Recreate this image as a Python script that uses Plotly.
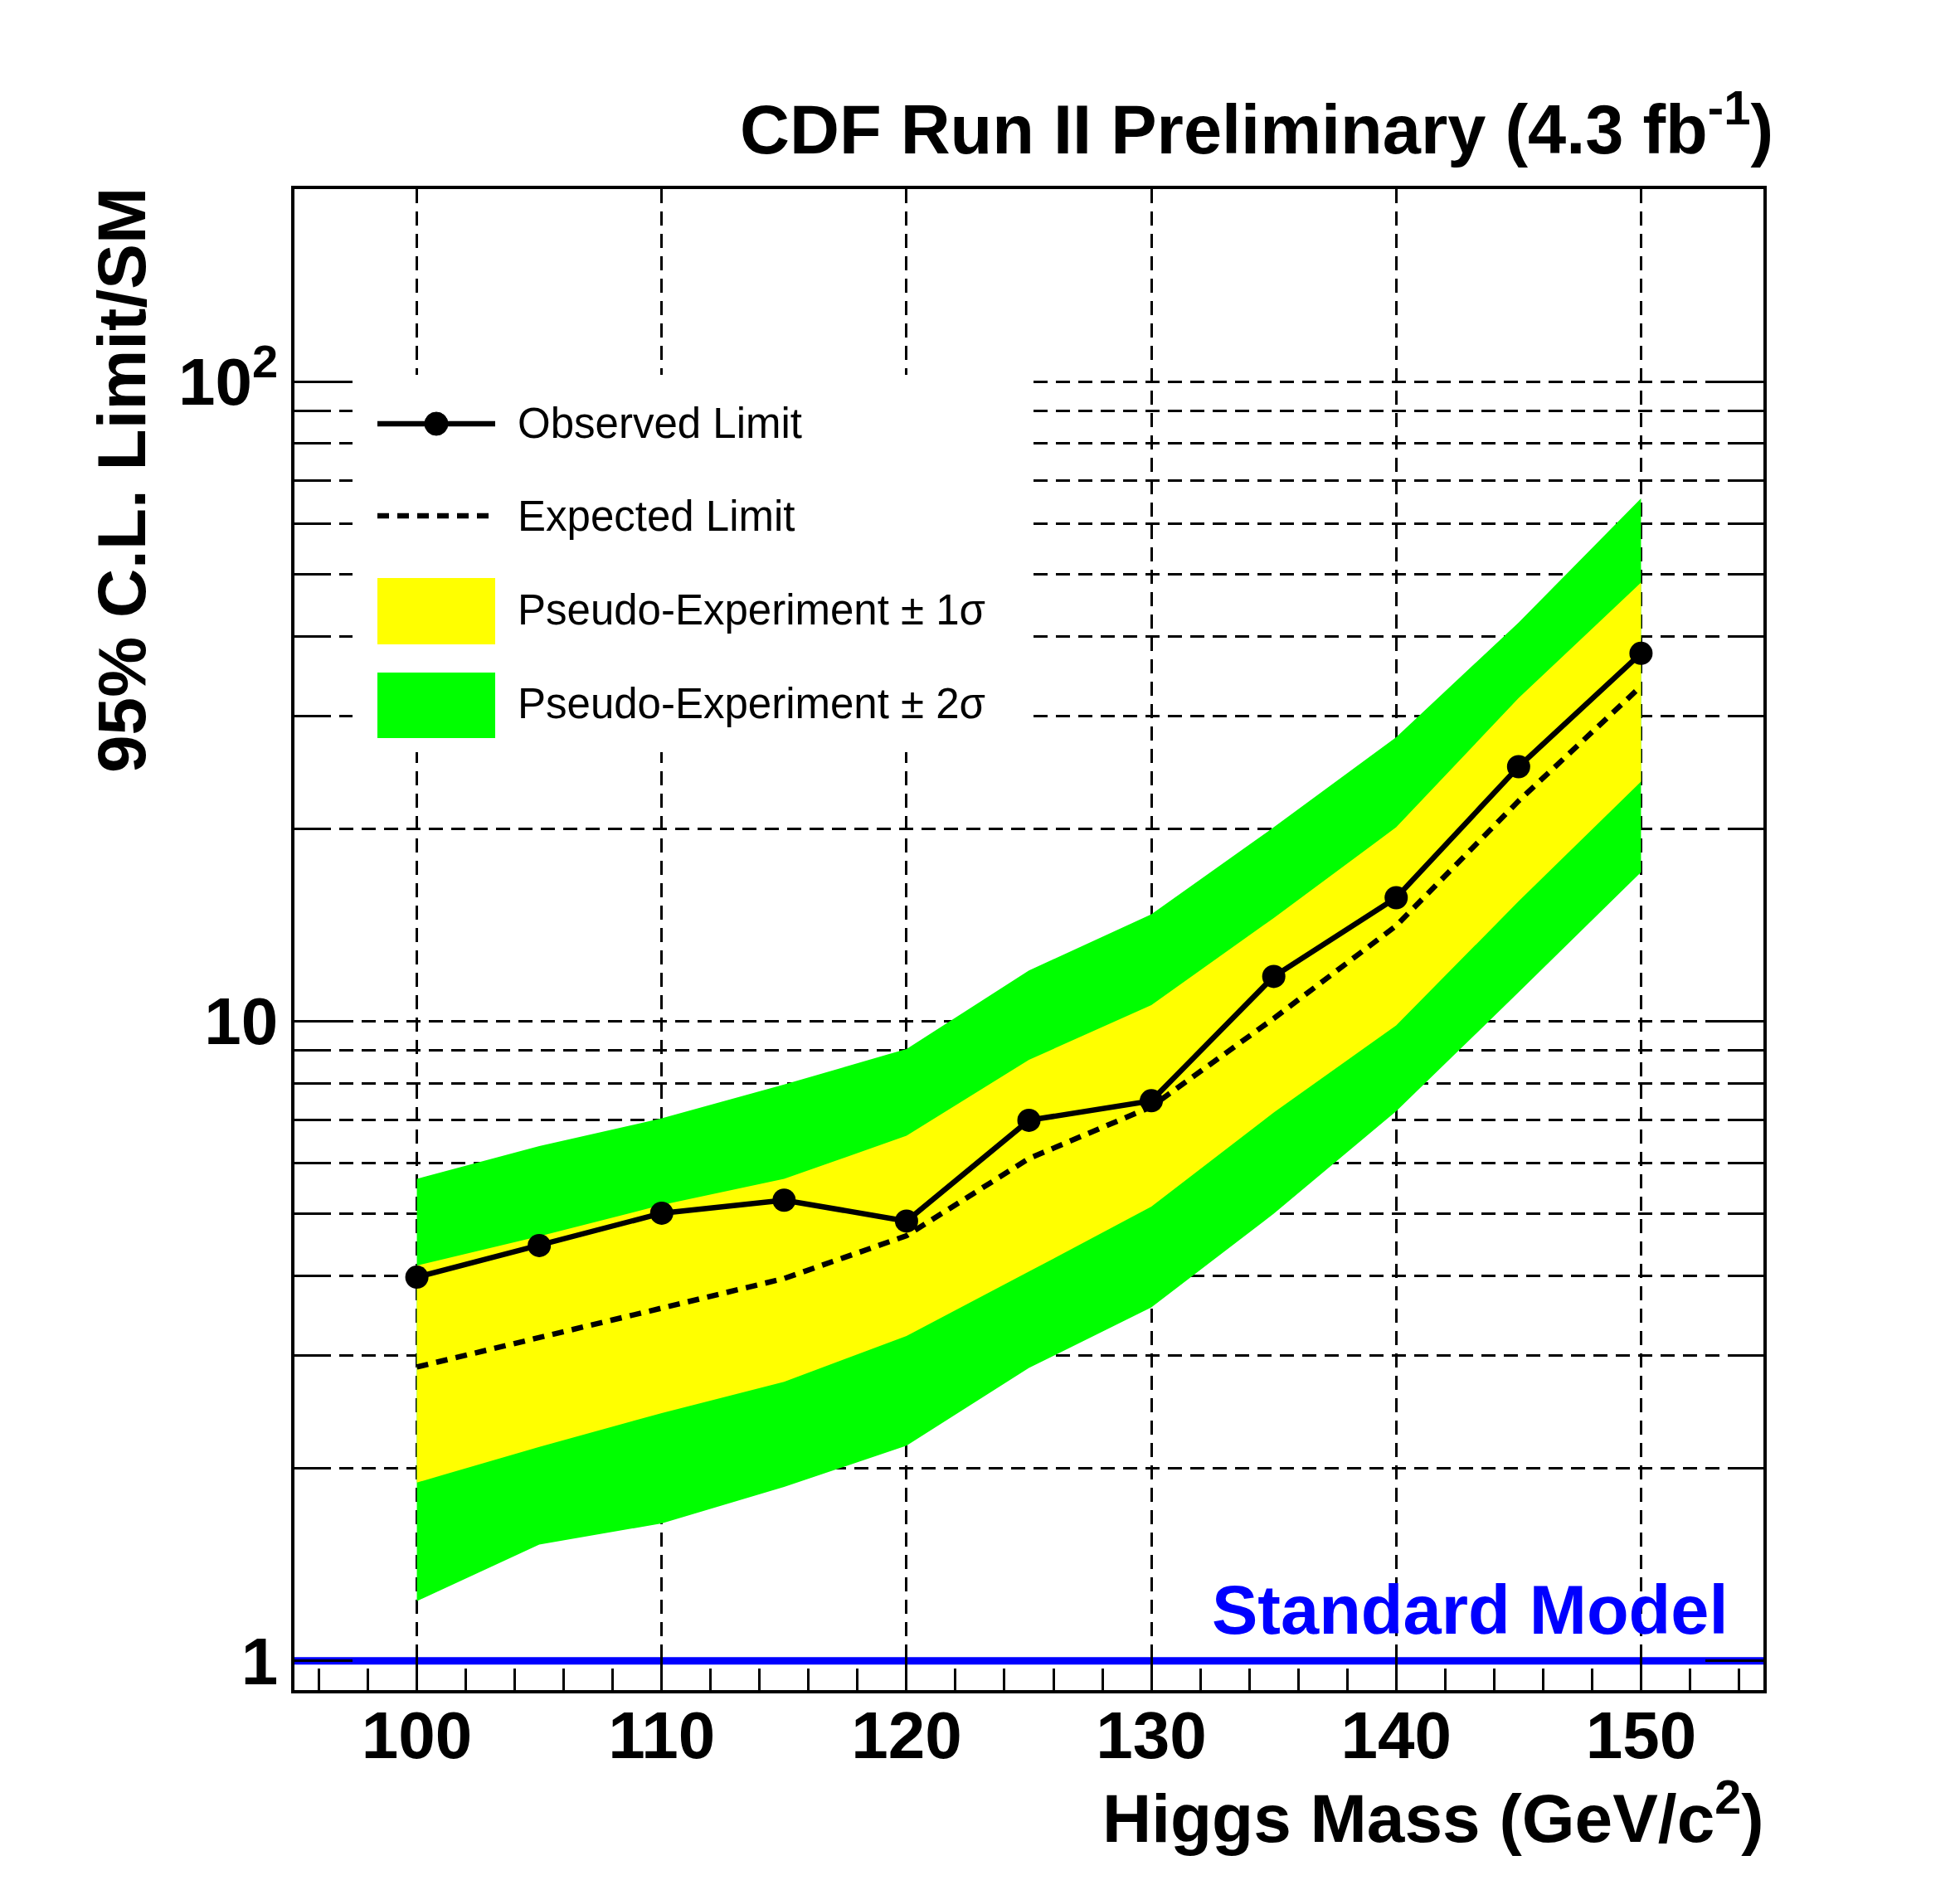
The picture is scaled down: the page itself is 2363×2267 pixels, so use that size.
import plotly.graph_objects as go

# ---------------- data ----------------
mass = [100, 105, 110, 115, 120, 125, 130, 135, 140, 145, 150]
observed = [3.98, 4.46, 5.01, 5.25, 4.87, 7.0, 7.51, 11.75, 15.6, 25.0, 37.6]
expected = [2.88, 3.21, 3.56, 3.96, 4.62, 6.1, 7.35, 10.1, 14.1, 22.1, 33.4]
band1_up = [4.15, 4.61, 5.16, 5.67, 6.62, 8.7, 10.6, 14.5, 20.1, 32.0, 48.5]
band1_lo = [1.90, 2.16, 2.44, 2.73, 3.22, 4.06, 5.13, 7.2, 9.85, 15.4, 23.7]
band2_up = [5.67, 6.38, 7.05, 7.96, 9.05, 12.0, 14.7, 20.1, 27.8, 42.0, 65.7]
band2_lo = [1.24, 1.52, 1.64, 1.87, 2.17, 2.87, 3.57, 5.0, 7.23, 11.1, 17.1]
sm_x = [95, 155]
sm_y = [1, 1]

x_ticks = [100, 110, 120, 130, 140, 150]
y_ticks = [1, 10, 100]
y_ticktext = ["1", "10", "10<sup>2</sup>"]
y_minor = [2, 3, 4, 5, 6, 7, 8, 9, 20, 30, 40, 50, 60, 70, 80, 90, 200]

legend_labels = ["Observed Limit", "Expected Limit",
                 "Pseudo-Experiment \u00b1 1\u03c3", "Pseudo-Experiment \u00b1 2\u03c3"]

# ---------------- geometry ----------------
# the page body has an 8px margin, so the figure is drawn 8px in from the corner
OFF = 8
W, H = 2363 - 2 * OFF, 2267 - 2 * OFF
PLOT_L, PLOT_R, PLOT_T, PLOT_B = 355, 2126, 228, 2038   # target pixels in the screenshot
ML = PLOT_L - OFF
MT = PLOT_T - OFF
MR = (OFF + W) - PLOT_R
MB = (OFF + H) - PLOT_B
PW, PH = PLOT_R - PLOT_L, PLOT_B - PLOT_T

def px(x):
    return (x - PLOT_L) / PW

def py(y):
    return (PLOT_B - y) / PH

FONT = "Liberation Sans, Arial, Helvetica, sans-serif"
GREEN = "#00ff00"
YELLOW = "#ffff00"

fig = go.Figure()

fig.add_trace(go.Scatter(
    x=mass + mass[::-1], y=band2_up + band2_lo[::-1],
    fill="toself", fillcolor=GREEN, mode="lines",
    line=dict(width=0, color=GREEN), hoverinfo="skip", showlegend=False))
fig.add_trace(go.Scatter(
    x=mass + mass[::-1], y=band1_up + band1_lo[::-1],
    fill="toself", fillcolor=YELLOW, mode="lines",
    line=dict(width=0, color=YELLOW), hoverinfo="skip", showlegend=False))
fig.add_trace(go.Scatter(
    x=mass, y=expected, mode="lines",
    line=dict(color="black", width=6.5, dash="14px,10px"), showlegend=False))
fig.add_trace(go.Scatter(
    x=mass, y=observed, mode="lines+markers",
    line=dict(color="black", width=6.5),
    marker=dict(color="black", size=28), showlegend=False))
fig.add_trace(go.Scatter(
    x=sm_x, y=sm_y, mode="lines",
    line=dict(color="#0000ff", width=9), showlegend=False))

grid_dash = "17px,10px"

fig.update_xaxes(
    range=[95, 155], showline=True, linecolor="black", linewidth=3.5, mirror=True,
    tickvals=x_ticks, ticks="inside", ticklen=52, tickwidth=3, tickcolor="black",
    showgrid=True, gridcolor="black", gridwidth=3, griddash=grid_dash,
    tickfont=dict(family=FONT, size=80, color="black", weight="bold"),
    ticklabelstandoff=-18,
    minor=dict(dtick=2, ticks="inside", ticklen=26, tickwidth=3, tickcolor="black",
               showgrid=False),
    zeroline=False,
)
fig.update_yaxes(
    type="log", range=[-0.04576, 2.30103],
    showline=True, linecolor="black", linewidth=3.5, mirror="ticks",
    tickvals=y_ticks, ticktext=y_ticktext, ticks="inside", ticklen=70, tickwidth=3,
    tickcolor="black",
    showgrid=True, gridcolor="black", gridwidth=3, griddash=grid_dash,
    tickfont=dict(family=FONT, size=80, color="black", weight="bold"),
    minor=dict(tickvals=y_minor, ticks="inside", ticklen=35, tickwidth=3,
               tickcolor="black", showgrid=True, gridcolor="black", gridwidth=3,
               griddash=grid_dash),
    zeroline=False,
)

shapes = []
# legend box (covers grid)
shapes.append(dict(type="rect", xref="paper", yref="paper", layer="above",
                   x0=px(425), x1=px(1239), y0=py(907), y1=py(452),
                   fillcolor="white", line=dict(width=0)))
# observed
shapes.append(dict(type="line", xref="paper", yref="paper", layer="above",
                   x0=px(455), x1=px(597), y0=py(511), y1=py(511),
                   line=dict(color="black", width=6.5)))
shapes.append(dict(type="circle", xref="paper", yref="paper", layer="above",
                   x0=px(512), x1=px(540), y0=py(525), y1=py(497),
                   fillcolor="black", line=dict(color="black", width=1)))
# expected
shapes.append(dict(type="line", xref="paper", yref="paper", layer="above",
                   x0=px(455), x1=px(597), y0=py(622), y1=py(622),
                   line=dict(color="black", width=6.5, dash="14px,10px")))
# bands
shapes.append(dict(type="rect", xref="paper", yref="paper", layer="above",
                   x0=px(455), x1=px(597), y0=py(777), y1=py(697),
                   fillcolor=YELLOW, line=dict(width=0)))
shapes.append(dict(type="rect", xref="paper", yref="paper", layer="above",
                   x0=px(455), x1=px(597), y0=py(890), y1=py(811),
                   fillcolor=GREEN, line=dict(width=0)))

annotations = []
for lab, yc in zip(legend_labels, [511, 622, 735, 848]):
    annotations.append(dict(text=lab, xref="paper", yref="paper", x=px(622), y=py(yc),
                            xanchor="left", yanchor="middle", showarrow=False,
                            font=dict(family=FONT, size=51, color="black")))

annotations.append(dict(text="CDF Run II Preliminary (4.3 fb<sup>-1</sup>)",
                        xref="paper", yref="paper", x=px(2140), y=py(150),
                        xanchor="right", yanchor="middle", showarrow=False,
                        font=dict(family=FONT, size=83, color="black", weight="bold")))
annotations.append(dict(text="95% C.L. Limit/SM", textangle=-90,
                        xref="paper", yref="paper", x=px(146), y=py(224),
                        xanchor="center", yanchor="top", showarrow=False,
                        font=dict(family=FONT, size=82, color="black", weight="bold")))
annotations.append(dict(text="Higgs Mass (GeV/c<sup>2</sup>)",
                        xref="paper", yref="paper", x=px(2128), y=py(2186),
                        xanchor="right", yanchor="middle", showarrow=False,
                        font=dict(family=FONT, size=82, color="black", weight="bold")))
annotations.append(dict(text="Standard Model",
                        xref="paper", yref="paper", x=px(2086), y=py(1941),
                        xanchor="right", yanchor="middle", showarrow=False,
                        font=dict(family=FONT, size=83, color="#0000ff", weight="bold")))

fig.update_layout(
    width=W, height=H, autosize=False,
    margin=dict(l=ML, r=MR, t=MT, b=MB, pad=0),
    paper_bgcolor="white", plot_bgcolor="white",
    showlegend=False, shapes=shapes, annotations=annotations,
    font=dict(family=FONT),
)

fig.write_html("out.html")
